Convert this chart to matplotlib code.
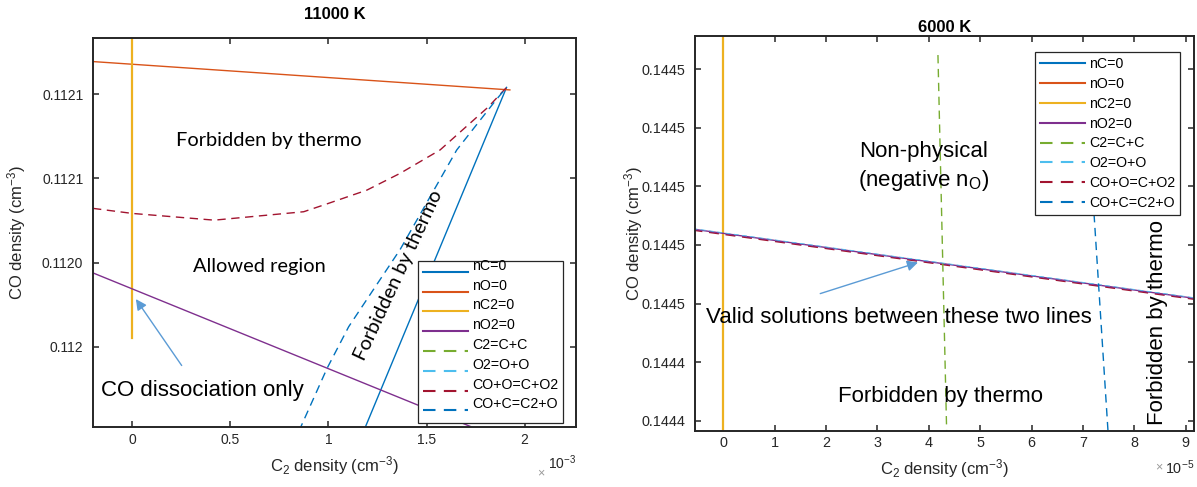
import matplotlib
matplotlib.use("Agg")
import matplotlib.pyplot as plt
from matplotlib.transforms import Affine2D, offset_copy

plt.rcParams['font.family'] = ['Liberation Sans', 'DejaVu Sans']
plt.rcParams['mathtext.fontset'] = 'custom'
plt.rcParams['mathtext.rm'] = 'Liberation Sans'
plt.rcParams['mathtext.it'] = 'Liberation Sans:italic'

# MATLAB default colours
c_blue, c_orange, c_yellow, c_purple = '#0072BD', '#D95319', '#EDB120', '#7E2F8E'
c_green, c_cyan, c_red = '#77AC30', '#4DBEEE', '#A2142F'
ink = '#262626'

labels = ['nC=0', 'nO=0', 'nC2=0', 'nO2=0', 'C2=C+C', 'O2=O+O', 'CO+O=C+O2', 'CO+C=C2+O']

# ---- 11000 K (left) ----
hot_nC_x = [1.180e-3, 1.908e-3]
hot_nC_y = [0.1119700, 0.1120924]
hot_nO_x = [-0.2e-3, 1.925e-3]
hot_nO_y = [0.1121016, 0.1120915]
hot_nC2_x = [0.0, 0.0]
hot_nC2_y = [0.1120032, 0.1121200]
hot_nO2_x = [-0.2e-3, 1.91e-3]
hot_nO2_y = [0.1120263, 0.1119663]
hot_COO_x = [-0.2e-3, 0.0, 0.418e-3, 0.874e-3, 1.001e-3, 1.196e-3, 1.366e-3, 1.569e-3, 1.816e-3, 1.908e-3]
hot_COO_y = [0.1120493, 0.1120475, 0.1120451, 0.1120481, 0.1120511, 0.1120558, 0.1120618, 0.1120701,
             0.1120855, 0.1120924]
hot_COC_x = [0.850e-3, 0.993e-3, 1.103e-3, 1.366e-3, 1.654e-3, 1.854e-3, 1.908e-3]
hot_COC_y = [0.1119700, 0.1119923, 0.1120071, 0.1120347, 0.1120701, 0.1120879, 0.1120924]
hot_yticks = [0.11200, 0.11203, 0.11206, 0.11209]
hot_yticklabels = ['0.112', '0.1120', '0.1121', '0.1121']
hot_xticks = [0, 0.5e-3, 1e-3, 1.5e-3, 2e-3]
hot_xticklabels = ['0', '0.5', '1', '1.5', '2']

# ---- 6000 K (right) ----
cool_nC2_x = [0.0, 0.0]
cool_nC2_y = [0.14441, 0.14456]
cool_nO2_x = [-0.6e-5, 9.2e-5]
cool_nO2_y = [0.1444854, 0.1444617]
cool_O2_y = [0.1444856, 0.1444619]
cool_COO_y = [0.1444851, 0.1444614]
cool_C2_x = [4.177e-5, 4.355e-5]
cool_C2_y = [0.1445448, 0.1444100]
cool_COC_x = [7.18e-5, 7.51e-5]
cool_COC_y = [0.1445000, 0.1444100]
cool_yticks = [0.14442, 0.14444, 0.14446, 0.14448, 0.14450, 0.14452, 0.14454]
cool_yticklabels = ['0.1444', '0.1444', '0.1445', '0.1445', '0.1445', '0.1445', '0.1445']
cool_xticks = [i * 1e-5 for i in range(10)]
cool_xticklabels = [str(i) for i in range(10)]

fig = plt.figure(figsize=(11.97, 4.87), dpi=100)
ax1 = fig.add_axes([0.0777, 0.1226, 0.4035, 0.7988])
ax2 = fig.add_axes([0.5804, 0.1156, 0.4171, 0.8105])

dash = (0, (6, 4))
calibri = ['Lato', 'DejaVu Sans']


def style_axes(ax, xt, xtl, yt, ytl, tsize):
    ax.set_xticks(xt)
    ax.set_xticklabels(xtl)
    ax.set_yticks(yt)
    ax.set_yticklabels(ytl)
    ax.tick_params(direction='in', length=4, width=1.1, colors=ink, labelsize=tsize,
                   top=True, right=True)
    ax.tick_params(axis='x', pad=4)
    ax.tick_params(axis='y', pad=7)
    for s in ax.spines.values():
        s.set_color(ink)
        s.set_linewidth(1.4)
    ax.set_xlabel('C$_2$ density (cm$^{-3}$)', fontsize=12, color=ink, labelpad=5)
    ax.set_ylabel('CO density (cm$^{-3}$)', fontsize=12, color=ink)


def add_exponent(ax, text, y_top, y_times, tsize):
    ax.text(1.0, y_top, text, transform=ax.transAxes, fontsize=tsize, color=ink,
            ha='right', va='top')
    tr = offset_copy(ax.transAxes, fig=fig, x=-31, y=0, units='dots')
    ax.text(1.0, y_times, r'$\times$', transform=tr, fontsize=9, color='#9a9a9a',
            ha='right', va='center')


def add_legend(ax, loc, anchor, lift):
    leg = ax.legend(loc=loc, bbox_to_anchor=anchor, fontsize=10.2, handlelength=3.2,
                    handletextpad=0.3, labelspacing=0.41, borderpad=0.35,
                    borderaxespad=0, fancybox=False, framealpha=1, edgecolor=ink)
    leg.get_frame().set_linewidth(0.9)
    for h in leg.get_lines():
        h.set_linewidth(1.5)
    if lift:
        for t in leg.get_texts():
            t.set_transform(t.get_transform() + Affine2D().translate(0, lift))
    return leg


# left panel
ax1.plot(hot_nC_x, hot_nC_y, color=c_blue, lw=1.0, label=labels[0])
ax1.plot(hot_nO_x, hot_nO_y, color=c_orange, lw=1.0, label=labels[1])
ax1.plot(hot_nC2_x, hot_nC2_y, color=c_yellow, lw=1.6, label=labels[2])
ax1.plot(hot_nO2_x, hot_nO2_y, color=c_purple, lw=1.0, label=labels[3])
ax1.plot([], [], color=c_green, ls=dash, lw=1.0, label=labels[4])
ax1.plot([], [], color=c_cyan, ls=dash, lw=1.0, label=labels[5])
ax1.plot(hot_COO_x, hot_COO_y, color=c_red, ls=dash, lw=1.0, label=labels[6])
ax1.plot(hot_COC_x, hot_COC_y, color=c_blue, ls=dash, lw=1.0, label=labels[7])
ax1.set_xlim(-0.2e-3, 2.262e-3)
ax1.set_ylim(0.1119713, 0.1121099)
style_axes(ax1, hot_xticks, hot_xticklabels, hot_yticks, hot_yticklabels, 10)
ax1.yaxis.set_label_coords(-0.134, 0.5)
add_exponent(ax1, '10$^{-3}$', -0.066, -0.118, 10)
ax1.set_title('11000 K', fontsize=12, fontweight='bold', color='black', pad=14)
add_legend(ax1, 'lower left', (0.672, 0.01), 7)

ax1.text(0.696e-3, 0.11207365, 'Forbidden by thermo', family=calibri, fontsize=14.4,
         ha='center', va='center')
ax1.text(0.646e-3, 0.1120285, 'Allowed region', family=calibri, fontsize=14.4,
         ha='center', va='center')
ax1.text(1.356e-3, 0.11202555, 'Forbidden by thermo', family=calibri, fontsize=14.4,
         ha='center', va='center', rotation=65, rotation_mode='anchor')
ax1.text(0.357e-3, 0.11198457, 'CO dissociation only', fontsize=16,
         ha='center', va='center')
ax1.annotate('', xy=(0.0104e-3, 0.1120178), xytext=(0.26e-3, 0.1119925),
             arrowprops=dict(arrowstyle='-|>', color='#5B9BD5', lw=1.0, mutation_scale=16))

# right panel
ax2.plot([], [], color=c_blue, lw=1.0, label=labels[0])
ax2.plot([], [], color=c_orange, lw=1.0, label=labels[1])
ax2.plot(cool_nC2_x, cool_nC2_y, color=c_yellow, lw=1.6, label=labels[2])
ax2.plot(cool_nO2_x, cool_COO_y, color=c_red, ls=dash, lw=1.2)
ax2.plot(cool_nO2_x, cool_nO2_y, color=c_purple, lw=1.0, label=labels[3])
ax2.plot(cool_C2_x, cool_C2_y, color=c_green, ls=dash, lw=1.0, label=labels[4])
ax2.plot(cool_nO2_x, cool_O2_y, color=c_cyan, ls=dash, lw=0.6, label=labels[5])
ax2.plot([], [], color=c_red, ls=dash, lw=1.0, label=labels[6])
ax2.plot(cool_COC_x, cool_COC_y, color=c_blue, ls=dash, lw=1.0, label=labels[7])
ax2.set_xlim(-0.556e-5, 9.16e-5)
ax2.set_ylim(0.1444166, 0.1445513)
style_axes(ax2, cool_xticks, cool_xticklabels, cool_yticks, cool_yticklabels, 10.4)
ax2.yaxis.set_label_coords(-0.0995, 0.5)
add_exponent(ax2, '10$^{-5}$', -0.07, -0.094, 10.4)
ax2.set_title('6000 K', fontsize=12, fontweight='bold', color='black', pad=3)
add_legend(ax2, 'upper right', (0.9726, 0.9587), 0)

ax2.text(3.905e-5, 0.1445066, 'Non-physical\n(negative n$_\\mathrm{O}$)', fontsize=16,
         ha='center', va='center', multialignment='center', linespacing=1.35)
ax2.text(3.409e-5, 0.1444553, 'Valid solutions between these two lines', fontsize=16,
         ha='center', va='center')
ax2.text(4.232e-5, 0.1444282, 'Forbidden by thermo', fontsize=16, ha='center', va='center')
ax2.text(8.44e-5, 0.1444535, 'Forbidden by thermo', fontsize=16, ha='center', va='center',
         rotation=90)
ax2.annotate('', xy=(3.84e-5, 0.1444743), xytext=(1.835e-5, 0.1444631),
             arrowprops=dict(arrowstyle='-|>', color='#5B9BD5', lw=1.0, mutation_scale=16))

fig.savefig('out.png', dpi=100)
